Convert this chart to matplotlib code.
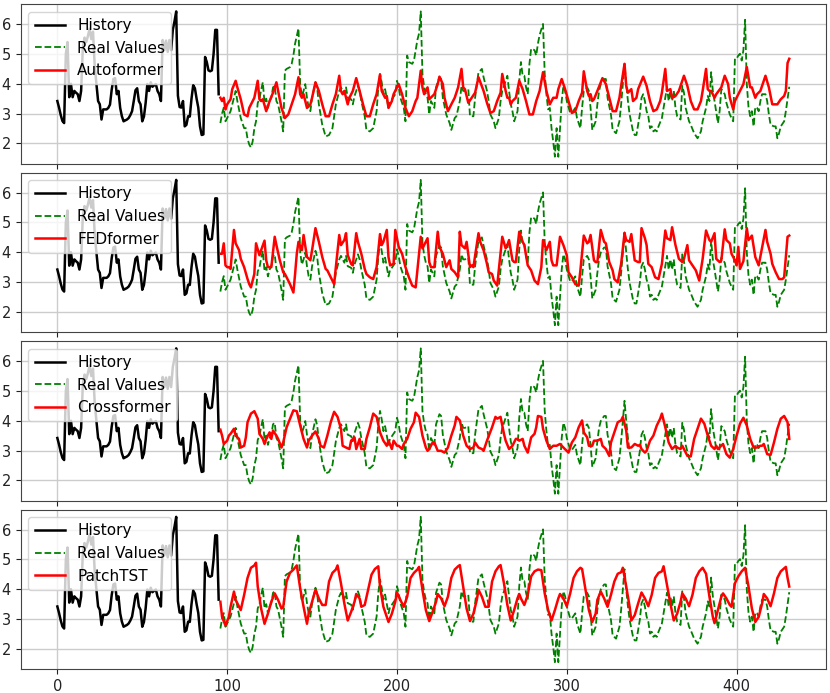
import numpy as np
import matplotlib
matplotlib.use("Agg")
from matplotlib import pyplot as plt

# history (input window)
hist_x = [0, 1, 2, 3, 4, 5, 6, 7, 8, 9, 10, 11, 12, 13, 14, 15, 16, 17, 18, 19, 20, 21, 22, 23, 24,
          25, 26, 27, 28, 29, 30, 31, 32, 33, 34, 35, 36, 37, 38, 39, 40, 41, 42, 43, 44, 45, 46, 47,
          48, 49, 50, 51, 52, 53, 54, 55, 56, 57, 58, 59, 60, 61, 62, 63, 64, 65, 66, 67, 68, 69, 70,
          71, 72, 73, 74, 75, 76, 77, 78, 79, 80, 81, 82, 83, 84, 85, 86, 87, 88, 89, 90, 91, 92, 93,
          94, 95]
hist_y = [3.42, 3.2, 2.95, 2.75, 2.68, 5.0, 5.4, 3.55, 4.0, 3.55, 3.76, 3.7, 3.65, 3.42, 3.76, 5.2,
          5.55, 5.4, 5.6, 5.85, 5.5, 5.75, 4.6, 4.0, 3.42, 3.31, 2.8, 3.14, 3.14, 3.14, 3.19, 3.3,
          3.8, 4.16, 4.19, 3.65, 3.76, 3.19, 2.91, 2.74, 2.77, 2.8, 2.85, 2.95, 3.08, 3.42, 3.78,
          3.85, 3.42, 3.31, 2.74, 2.9, 3.36, 3.99, 3.76, 4.05, 3.9, 3.95, 3.99, 3.76, 3.65, 3.42,
          5.47, 5.13, 5.45, 5.07, 5.47, 5.13, 5.81, 6.1, 6.43, 3.6, 3.22, 3.2, 3.42, 2.57, 2.62,
          2.91, 2.9, 3.5, 3.95, 3.85, 3.5, 3.2, 2.57, 2.28, 2.3, 4.9, 4.73, 4.45, 4.42, 4.45, 5.0,
          5.81, 5.81, 3.65]

# real values (forecast window)
real_x = [96, 97, 98, 99, 100, 102, 104, 105, 106, 108, 110, 111, 112, 113, 114, 115, 116, 117, 118,
          119, 120, 121, 122, 123, 124, 125, 126, 127, 128, 129, 130, 132, 133, 134, 135, 137, 138,
          139, 140, 142, 143, 144, 145, 146, 147, 148, 149, 150, 152, 153, 154, 156, 158, 160, 162,
          164, 165, 166, 167, 169, 170, 171, 173, 174, 175, 177, 178, 179, 181, 182, 184, 186, 188,
          189, 190, 191, 192, 193, 195, 196, 197, 199, 200, 201, 202, 204, 205, 206, 207, 209, 210,
          212, 213, 214, 215, 216, 217, 218, 219, 220, 221, 222, 223, 225, 226, 227, 229, 231, 232,
          234, 235, 237, 238, 239, 240, 242, 243, 245, 246, 248, 249, 250, 251, 253, 254, 255, 257,
          258, 260, 261, 262, 264, 265, 266, 267, 268, 269, 271, 272, 273, 274, 275, 276, 277, 278,
          279, 281, 282, 283, 284, 286, 287, 288, 289, 290, 291, 292, 293, 294, 295, 296, 297, 298,
          299, 300, 302, 303, 305, 306, 308, 309, 310, 312, 313, 314, 315, 317, 318, 319, 320, 322,
          323, 324, 326, 327, 329, 331, 332, 333, 334, 335, 336, 337, 339, 340, 341, 343, 344, 345,
          346, 347, 348, 349, 350, 351, 352, 353, 354, 356, 357, 359, 360, 361, 362, 363, 364, 365,
          367, 368, 369, 370, 372, 373, 375, 377, 379, 380, 382, 383, 384, 385, 386, 387, 389, 390,
          391, 393, 394, 396, 397, 398, 399, 400, 401, 402, 403, 404, 405, 406, 407, 408, 409, 410,
          411, 412, 413, 414, 415, 417, 418, 419, 420, 422, 423, 424, 425, 426, 428, 429, 431]
real_y = [2.68, 3.0, 3.2, 2.74, 2.85, 3.08, 3.53, 3.76, 3.42, 2.85, 2.51, 2.51, 2.15, 1.96, 1.86,
          2.06, 2.5, 2.74, 3.36, 3.48, 3.8, 4.05, 3.36, 3.5, 3.19, 3.42, 3.53, 3.88, 3.93, 3.42,
          3.31, 2.74, 2.40, 4.44, 4.50, 4.56, 4.67, 4.95, 5.35, 5.86, 3.99, 3.59, 3.76, 3.99, 3.53,
          3.19, 3.08, 3.53, 4.05, 3.85, 3.31, 2.62, 2.23, 2.28, 2.51, 3.31, 3.53, 3.76, 3.88, 3.65,
          3.88, 3.53, 3.48, 3.31, 3.59, 3.93, 3.76, 3.42, 2.91, 2.45, 2.40, 2.51, 3.08, 3.88, 4.33,
          4.05, 3.65, 3.82, 3.19, 3.42, 3.48, 3.65, 4.10, 3.88, 3.53, 3.19, 2.74, 4.95, 4.73, 4.67,
          4.78, 5.47, 5.69, 6.43, 4.33, 3.9, 3.65, 3.53, 2.97, 3.42, 3.31, 3.19, 3.88, 4.22, 4.16,
          3.53, 2.97, 2.68, 2.45, 2.85, 2.91, 3.42, 3.93, 3.76, 3.76, 3.82, 2.91, 2.91, 3.53, 4.39,
          4.44, 4.50, 4.22, 3.76, 3.42, 2.97, 2.74, 2.51, 2.85, 3.42, 3.76, 4.10, 4.27, 3.76, 3.31,
          3.08, 2.74, 3.08, 4.10, 4.73, 4.27, 4.27, 3.88, 3.65, 4.67, 5.18, 5.13, 4.95, 5.35, 5.64,
          6.01, 4.33, 3.65, 3.14, 3.19, 2.51, 2.06, 1.55, 2.51, 1.55, 2.51, 3.42, 3.93, 3.76, 3.42,
          3.02, 3.02, 3.19, 2.85, 2.51, 3.19, 3.76, 3.88, 3.76, 3.19, 2.45, 2.74, 3.31, 3.76, 3.99,
          4.16, 4.16, 3.53, 2.97, 2.45, 2.34, 2.74, 3.31, 3.99, 4.67, 3.99, 3.42, 2.97, 2.40, 2.28,
          2.28, 2.97, 3.53, 3.65, 3.42, 3.08, 2.91, 2.51, 2.57, 2.40, 2.45, 2.40, 2.57, 2.85, 3.19,
          3.88, 3.42, 3.76, 3.42, 3.76, 3.19, 2.91, 2.80, 3.93, 3.70, 3.19, 2.74, 2.62, 2.34, 2.17,
          2.40, 2.74, 3.19, 3.59, 3.42, 4.39, 3.76, 3.42, 2.68, 3.08, 3.82, 3.65, 3.36, 2.97, 2.85,
          2.74, 4.84, 4.84, 4.95, 5.01, 4.78, 5.13, 6.15, 3.99, 3.22, 2.91, 3.08, 2.57, 3.22, 3.19,
          3.08, 3.42, 3.65, 3.65, 3.42, 2.97, 2.62, 2.57, 2.57, 2.17, 2.34, 2.57, 2.74, 3.08, 3.90]

# predictions
auto_x = [96, 97, 98, 99, 100, 102, 103, 105, 106, 108, 110, 112, 113, 115, 116, 118, 119, 120, 121,
          123, 124, 125, 127, 129, 130, 132, 134, 136, 138, 140, 142, 143, 144, 145, 146, 147, 149,
          150, 152, 154, 156, 158, 160, 162, 164, 166, 167, 168, 169, 171, 172, 174, 176, 178, 180,
          182, 184, 186, 188, 190, 191, 193, 194, 195, 197, 198, 201, 203, 205, 207, 209, 211, 212,
          214, 215, 216, 218, 219, 221, 222, 224, 225, 227, 228, 230, 232, 234, 236, 238, 239, 240,
          242, 244, 246, 248, 251, 253, 255, 257, 259, 261, 262, 264, 265, 266, 267, 268, 270, 272,
          274, 276, 278, 280, 282, 284, 286, 288, 289, 290, 292, 294, 295, 297, 299, 301, 303, 305,
          307, 309, 310, 312, 313, 314, 315, 316, 318, 321, 323, 325, 327, 329, 331, 332, 334, 335,
          336, 337, 338, 339, 341, 342, 345, 347, 349, 351, 353, 355, 356, 358, 359, 361, 362, 364,
          366, 369, 371, 373, 375, 377, 379, 380, 382, 383, 384, 385, 387, 388, 391, 393, 395, 396,
          398, 399, 402, 404, 406, 408, 409, 411, 412, 414, 417, 419, 421, 424, 426, 428, 429, 430,
          431]
auto_y = [3.53, 3.42, 3.53, 3.14, 3.31, 3.48, 3.82, 4.10, 3.88, 3.48, 2.97, 2.91, 3.19, 3.42, 3.53,
          4.10, 3.48, 3.42, 3.48, 3.08, 3.25, 3.42, 3.70, 4.05, 3.76, 3.19, 2.85, 2.97, 3.31, 3.65,
          4.22, 3.65, 3.53, 3.65, 3.42, 3.19, 3.31, 3.53, 4.05, 3.76, 3.31, 2.91, 2.91, 3.31, 3.65,
          4.27, 3.76, 3.65, 3.76, 3.31, 3.53, 3.76, 4.19, 3.76, 3.31, 2.91, 2.91, 3.31, 3.65, 4.31,
          3.76, 3.53, 3.59, 3.19, 3.42, 3.65, 3.99, 3.65, 3.19, 2.91, 3.08, 3.42, 3.53, 4.44, 3.88,
          3.65, 3.88, 3.48, 3.59, 3.65, 3.99, 4.24, 3.99, 3.53, 3.08, 3.31, 3.53, 3.88, 4.50, 3.88,
          3.82, 3.36, 3.53, 3.70, 4.22, 3.76, 3.36, 3.02, 3.08, 3.42, 3.70, 4.33, 3.76, 3.53, 3.53,
          3.31, 3.42, 3.53, 4.10, 3.82, 3.42, 2.97, 2.97, 3.42, 3.76, 4.39, 3.76, 3.53, 3.31, 3.53,
          3.53, 3.82, 4.16, 3.82, 3.42, 3.02, 3.08, 3.42, 3.70, 4.42, 3.76, 3.59, 3.65, 3.42, 3.48,
          3.76, 4.19, 3.99, 3.53, 3.08, 3.08, 3.53, 3.93, 4.67, 3.93, 3.70, 3.76, 3.82, 3.42, 3.53,
          3.82, 4.24, 3.93, 3.42, 3.08, 3.14, 3.42, 3.70, 4.50, 3.76, 3.82, 3.53, 3.59, 3.76, 4.27,
          3.93, 3.42, 3.14, 3.14, 3.42, 3.76, 4.50, 3.82, 3.76, 3.76, 3.53, 3.65, 3.88, 4.27, 3.99,
          3.53, 3.14, 3.42, 3.76, 3.99, 4.56, 3.88, 3.88, 3.53, 3.65, 3.76, 4.27, 3.88, 3.31, 3.31,
          3.48, 3.59, 3.76, 4.70, 4.84]

fed_x = [96, 97, 98, 99, 100, 101, 102, 104, 105, 107, 108, 110, 112, 113, 114, 116, 117, 119, 120,
         122, 123, 124, 126, 128, 129, 131, 133, 134, 135, 137, 139, 140, 141, 142, 144, 145, 147,
         149, 150, 152, 154, 156, 158, 159, 161, 163, 164, 166, 167, 169, 170, 171, 173, 174, 176,
         177, 179, 181, 182, 184, 186, 188, 190, 191, 192, 194, 195, 196, 198, 199, 201, 203, 205,
         207, 209, 211, 212, 214, 215, 216, 218, 219, 220, 222, 224, 225, 227, 229, 231, 232, 234,
         236, 237, 238, 240, 241, 243, 244, 245, 248, 249, 251, 253, 254, 256, 257, 259, 261, 262,
         264, 265, 266, 268, 269, 270, 272, 274, 275, 277, 279, 281, 283, 285, 286, 288, 290, 291,
         292, 294, 296, 298, 300, 301, 303, 305, 307, 308, 310, 312, 313, 314, 316, 317, 318, 320,
         322, 323, 325, 327, 328, 330, 332, 334, 335, 337, 338, 340, 342, 343, 344, 346, 347, 348,
         350, 352, 354, 356, 358, 359, 361, 362, 364, 366, 368, 369, 371, 372, 374, 376, 378, 380,
         382, 384, 385, 387, 388, 390, 391, 393, 394, 396, 397, 399, 400, 401, 402, 404, 406, 407,
         408, 409, 411, 413, 417, 418, 420, 421, 423, 425, 427, 428, 429, 430, 431]
fed_y = [3.95, 3.95, 4.30, 3.56, 3.50, 3.50, 3.44, 4.75, 4.30, 4.07, 3.78, 3.50, 3.10, 2.93, 2.82,
         3.27, 4.30, 3.90, 4.07, 4.39, 3.73, 3.50, 3.50, 4.52, 4.24, 3.73, 3.33, 3.27, 3.16, 2.93,
         2.65, 3.27, 3.95, 4.35, 4.07, 4.58, 3.84, 3.73, 4.07, 4.81, 4.35, 3.84, 3.44, 3.39, 3.16,
         2.93, 3.50, 4.58, 4.24, 4.41, 4.64, 3.90, 3.61, 3.56, 4.64, 4.35, 3.95, 3.44, 3.27, 3.16,
         3.10, 3.50, 4.61, 4.24, 4.35, 4.75, 3.84, 3.56, 3.61, 4.75, 4.18, 3.95, 3.50, 3.16, 2.88,
         2.82, 3.39, 4.52, 4.13, 4.24, 4.47, 3.67, 3.50, 3.50, 4.69, 4.18, 3.95, 3.50, 3.73, 3.44,
         3.33, 3.16, 4.69, 4.24, 4.13, 4.35, 3.50, 3.56, 3.50, 4.64, 4.35, 4.07, 3.61, 3.33, 3.27,
         3.05, 2.88, 3.95, 4.52, 4.13, 4.24, 4.41, 3.73, 3.67, 3.67, 4.69, 4.35, 4.24, 3.56, 3.39,
         3.05, 2.93, 3.50, 4.41, 4.07, 4.35, 3.73, 3.56, 3.56, 4.52, 4.24, 3.90, 3.33, 3.16, 2.93,
         2.88, 3.39, 4.56, 4.30, 4.35, 4.58, 3.73, 3.67, 3.67, 4.75, 4.35, 4.30, 3.67, 3.39, 3.10,
         2.99, 3.61, 4.64, 4.41, 4.35, 4.61, 3.73, 3.67, 3.67, 4.81, 4.47, 4.24, 3.61, 3.50, 3.16,
         3.10, 3.61, 4.73, 4.47, 4.41, 4.84, 4.24, 3.78, 3.67, 3.78, 4.24, 3.73, 3.56, 3.39, 3.05,
         3.78, 4.73, 4.41, 4.35, 4.64, 3.78, 3.67, 3.73, 4.77, 4.41, 4.30, 3.95, 3.73, 3.56, 4.18,
         3.44, 3.70, 4.81, 4.41, 4.47, 4.56, 3.84, 3.56, 4.75, 4.35, 3.95, 3.61, 3.33, 3.10, 3.10,
         3.16, 3.84, 4.52, 4.56]

cross_x = [96, 97, 98, 100, 101, 102, 104, 105, 107, 108, 110, 111, 112, 114, 116, 118, 119, 121,
           122, 123, 125, 126, 127, 129, 130, 132, 133, 135, 137, 139, 141, 143, 145, 147, 148, 150,
           152, 154, 155, 157, 159, 161, 163, 165, 167, 168, 170, 172, 173, 175, 176, 178, 179, 181,
           182, 184, 186, 188, 190, 192, 194, 195, 197, 198, 200, 201, 203, 204, 206, 208, 210, 211,
           213, 215, 217, 218, 219, 221, 222, 224, 226, 228, 230, 232, 234, 235, 237, 239, 241, 243,
           245, 246, 248, 250, 251, 253, 256, 258, 259, 261, 263, 264, 266, 268, 270, 271, 272, 274,
           275, 277, 279, 281, 282, 283, 285, 286, 288, 290, 292, 294, 296, 298, 300, 301, 303, 305,
           307, 309, 310, 312, 313, 315, 316, 318, 320, 321, 323, 325, 326, 328, 330, 332, 333, 335,
           336, 338, 340, 342, 343, 344, 346, 347, 349, 351, 353, 355, 356, 358, 360, 362, 364, 365,
           367, 368, 369, 371, 373, 375, 377, 379, 381, 383, 385, 387, 388, 389, 391, 392, 394, 396,
           398, 400, 402, 404, 406, 408, 410, 412, 414, 415, 416, 418, 420, 422, 424, 426, 428, 430,
           431]
cross_y = [3.70, 3.50, 3.22, 3.33, 3.50, 3.56, 3.73, 3.50, 3.39, 3.10, 3.16, 3.44, 3.95, 4.24, 4.32,
           4.07, 3.56, 3.39, 3.22, 3.39, 3.61, 3.39, 3.67, 3.50, 3.39, 3.10, 3.27, 3.78, 4.07, 4.35,
           4.32, 3.84, 3.39, 3.10, 3.33, 3.50, 3.64, 3.39, 3.16, 3.10, 3.50, 3.95, 4.30, 4.13, 3.73,
           3.16, 3.10, 3.05, 3.33, 3.44, 3.05, 3.39, 3.05, 3.05, 3.39, 3.78, 4.24, 4.13, 3.61, 3.33,
           3.16, 3.33, 3.05, 3.33, 3.16, 3.16, 3.05, 3.22, 3.39, 3.73, 3.95, 4.27, 4.13, 3.50, 3.10,
           2.99, 3.05, 3.27, 3.27, 2.99, 2.99, 2.93, 3.10, 3.50, 3.84, 4.13, 4.01, 3.50, 3.16, 3.05,
           3.10, 3.27, 3.10, 3.05, 2.99, 3.33, 3.78, 4.13, 4.07, 4.13, 3.56, 3.33, 3.05, 3.16, 3.39,
           3.39, 3.33, 3.39, 3.16, 2.93, 3.44, 3.56, 3.78, 4.16, 4.13, 3.73, 3.33, 3.05, 3.16, 3.16,
           3.22, 3.10, 2.99, 2.93, 3.27, 3.44, 3.78, 4.01, 3.61, 3.44, 3.16, 3.16, 3.33, 3.33, 3.39,
           3.16, 3.05, 2.82, 3.27, 3.61, 3.95, 4.01, 4.13, 3.67, 3.10, 3.10, 3.22, 3.16, 3.19, 3.05,
           2.93, 2.99, 3.33, 3.50, 3.84, 4.07, 4.24, 3.78, 3.27, 3.05, 3.16, 3.10, 3.05, 3.16, 3.05,
           2.82, 2.80, 3.39, 3.73, 4.07, 3.90, 3.50, 3.16, 3.05, 3.16, 3.05, 3.16, 3.22, 2.88, 2.76,
           3.05, 3.50, 3.90, 4.10, 3.84, 3.39, 3.10, 3.10, 3.16, 3.16, 3.22, 2.88, 2.85, 3.27, 3.73,
           4.07, 4.16, 3.95, 3.39]

patch_x = [96, 97, 99, 101, 102, 104, 105, 107, 108, 110, 112, 114, 116, 117, 118, 120, 122, 124,
           126, 128, 130, 132, 133, 135, 137, 139, 141, 143, 145, 147, 148, 150, 152, 154, 156, 158,
           160, 162, 164, 165, 167, 169, 171, 173, 175, 176, 178, 179, 181, 183, 185, 187, 189, 190,
           192, 195, 197, 199, 200, 202, 204, 206, 208, 210, 212, 213, 215, 217, 219, 221, 223, 224,
           226, 228, 230, 232, 234, 236, 237, 239, 241, 243, 245, 247, 248, 250, 252, 254, 256, 258,
           260, 261, 263, 265, 267, 269, 271, 272, 273, 275, 277, 279, 281, 283, 285, 287, 289, 291,
           293, 295, 296, 298, 300, 302, 304, 306, 308, 309, 311, 313, 315, 317, 318, 320, 322, 324,
           326, 328, 330, 332, 333, 335, 337, 338, 340, 342, 344, 346, 348, 350, 352, 354, 356, 357,
           359, 361, 363, 365, 367, 368, 370, 372, 374, 376, 378, 380, 382, 384, 386, 387, 389, 391,
           392, 394, 396, 397, 399, 401, 403, 405, 407, 409, 411, 413, 415, 416, 418, 420, 422, 424,
           426, 429, 430, 431]
patch_y = [3.58, 3.07, 2.78, 3.07, 3.41, 3.92, 3.64, 3.41, 3.30, 3.81, 4.38, 4.72, 4.80, 4.89, 4.09,
           3.35, 2.84, 3.18, 3.58, 3.86, 3.64, 3.35, 3.41, 4.26, 4.55, 4.66, 4.80, 4.03, 3.41, 2.84,
           3.18, 3.58, 3.98, 3.69, 3.47, 3.47, 4.26, 4.55, 4.66, 4.80, 4.20, 3.52, 2.95, 3.24, 3.58,
           3.84, 3.69, 3.41, 3.47, 3.98, 4.49, 4.68, 4.77, 4.09, 3.41, 2.90, 3.18, 3.58, 3.89, 3.64,
           3.41, 3.75, 4.38, 4.55, 4.66, 4.75, 3.98, 3.30, 2.93, 3.24, 3.58, 3.84, 3.69, 3.43, 3.75,
           4.38, 4.66, 4.77, 4.81, 4.09, 3.35, 2.93, 3.18, 3.64, 3.98, 3.75, 3.41, 3.41, 4.26, 4.60,
           4.77, 4.81, 4.20, 3.47, 2.95, 3.30, 3.70, 3.84, 3.69, 3.47, 3.81, 4.43, 4.60, 4.66, 4.64,
           3.86, 3.30, 2.95, 3.30, 3.69, 3.84, 3.69, 3.43, 3.86, 4.38, 4.60, 4.72, 4.68, 3.98, 3.30,
           2.90, 3.18, 3.64, 3.92, 3.69, 3.41, 3.81, 4.26, 4.52, 4.57, 4.72, 4.09, 3.41, 2.95, 3.13,
           3.52, 3.89, 3.69, 3.43, 3.81, 4.38, 4.55, 4.60, 4.77, 4.15, 3.52, 2.95, 3.18, 3.58, 3.86,
           3.69, 3.43, 3.81, 4.38, 4.60, 4.72, 4.52, 3.75, 3.07, 2.86, 3.30, 3.75, 3.86, 3.69, 3.47,
           3.41, 4.20, 4.43, 4.60, 4.72, 4.09, 3.35, 2.90, 3.07, 3.52, 3.84, 3.69, 3.43, 3.86, 4.38,
           4.60, 4.75, 4.38, 4.09]

models = ["Autoformer", "FEDformer", "Crossformer", "PatchTST"]
preds = [(auto_x, auto_y), (fed_x, fed_y), (cross_x, cross_y), (patch_x, patch_y)]

fig, axes = plt.subplots(4, 1, figsize=(8.3, 6.93), dpi=100, sharex=True)
fig.subplots_adjust(left=0.025, right=0.995, top=0.994, bottom=0.034, hspace=0.054)

for ax, name, (px, py) in zip(axes, models, preds):
    ax.plot(hist_x, hist_y, color="black", lw=1.8, label="History")
    ax.plot(real_x, real_y, color="green", lw=1.3, ls="--", label="Real Values")
    ax.plot(px, py, color="red", lw=1.8, label=name)
    ax.grid(True, color="#cccccc", lw=1.0)
    ax.set_yticks([2, 3, 4, 5, 6])
    ax.tick_params(labelsize=10.5, colors="#222222")
    for sp in ax.spines.values():
        sp.set_color("#444444")
    ax.legend(loc="upper left", fontsize=11)

axes[-1].set_xticks([0, 100, 200, 300, 400])

plt.savefig("out.png", dpi=100)
